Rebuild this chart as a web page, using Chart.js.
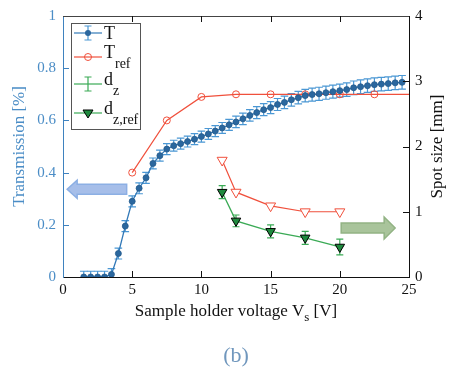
<!DOCTYPE html>
<html>
<head>
<meta charset="utf-8">
<script src="https://cdn.jsdelivr.net/npm/chart.js@4.4.0/dist/chart.umd.min.js"></script>
<style>
  html, body { margin: 0; padding: 0; background: #fff; }
  canvas { display: block; }
</style>
</head>
<body>
<canvas id="chart" width="449" height="376"></canvas>
<script>
// transmission scan, 0.5 V steps
const voltage = [1.5, 2, 2.5, 3, 3.5, 4, 4.5, 5, 5.5, 6, 6.5, 7, 7.5, 8, 8.5, 9, 9.5, 10, 10.5, 11,
  11.5, 12, 12.5, 13, 13.5, 14, 14.5, 15, 15.5, 16, 16.5, 17, 17.5, 18, 18.5, 19, 19.5, 20, 20.5, 21,
  21.5, 22, 22.5, 23, 23.5, 24, 24.5];
const trans = [0, 0, 0, 0, 0.01, 0.09, 0.195, 0.29, 0.34, 0.38, 0.435, 0.465, 0.49, 0.503, 0.511, 0.519, 0.528, 0.538, 0.548, 0.559,
  0.571, 0.583, 0.594, 0.606, 0.619, 0.63, 0.641, 0.649, 0.661, 0.669, 0.679, 0.687, 0.695, 0.699, 0.702, 0.706, 0.71, 0.714, 0.718, 0.725,
  0.729, 0.733, 0.737, 0.739, 0.741, 0.744, 0.746];
const transErr = [0.022, 0.022, 0.022, 0.022, 0.022, 0.021, 0.021, 0.021, 0.021, 0.021, 0.021, 0.021, 0.021, 0.021, 0.021, 0.021, 0.021, 0.021, 0.021, 0.021,
  0.021, 0.021, 0.022, 0.022, 0.022, 0.023, 0.023, 0.023, 0.023, 0.024, 0.024, 0.024, 0.024, 0.025, 0.025, 0.025, 0.025, 0.025, 0.026, 0.026,
  0.026, 0.026, 0.026, 0.026, 0.026, 0.026, 0.026];

// reference transmission
const refVoltage = [5, 7.5, 10, 12.5, 15, 17.5, 20, 22.5, 25];
const transRef = [0.40, 0.60, 0.69, 0.70, 0.70, 0.70, 0.70, 0.70, 0.70];

// spot size
const spotVoltage = [11.5, 12.5, 15, 17.5, 20];
const spotRef = [1.79, 1.30, 1.09, 1.0, 1.0];
const spotSize = [1.30, 0.86, 0.70, 0.60, 0.46];
const spotErr = [0.10, 0.09, 0.10, 0.10, 0.12];

const xTicks = [0, 5, 10, 15, 20, 25];
const leftTicks = [0, 0.2, 0.4, 0.6, 0.8, 1];
const rightTicks = [0, 1, 2, 3, 4];

const SERIF = "'Liberation Serif', 'DejaVu Serif', serif";
const C = {
  blue:     '#3279b8',
  blueDot:  '#2b679e',
  blueErr:  '#4a97d4',
  blueAxis: '#3f82bf',
  blueText: '#4b8dc6',
  red:      '#f0503c',
  green:    '#3aaa55',
  greenTri: '#1f8a3e',
  ink:      '#111',
};

const pts = (xs, ys) => xs.map((v, i) => ({ x: v, y: ys[i] }));
const fixTicks = (arr) => (s) => { s.ticks = arr.map(v => ({ value: v })); };

// ── plugins ─────────────────────────────────────────────

const errorBars = {
  id: 'errorBars',
  beforeDatasetsDraw(chart) {
    const { ctx, chartArea: ca, scales } = chart;
    const draw = (xs, ys, es, yScale, color, cap) => {
      ctx.strokeStyle = color;
      ctx.lineWidth = 1.2;
      xs.forEach((v, i) => {
        const px = scales.x.getPixelForValue(v);
        const top = yScale.getPixelForValue(ys[i] + es[i]);
        const bot = yScale.getPixelForValue(ys[i] - es[i]);
        ctx.beginPath();
        ctx.moveTo(px, top); ctx.lineTo(px, bot);
        ctx.moveTo(px - cap, top); ctx.lineTo(px + cap, top);
        ctx.moveTo(px - cap, bot); ctx.lineTo(px + cap, bot);
        ctx.stroke();
      });
    };
    ctx.save();
    ctx.beginPath();
    ctx.rect(ca.left, ca.top, ca.right - ca.left, ca.bottom - ca.top);
    ctx.clip();
    draw(voltage, trans, transErr, scales.y, C.blueErr, 3.8);
    draw(spotVoltage, spotSize, spotErr, scales.y2, C.green, 3.5);
    ctx.restore();
  },
};

function arrow(ctx, x0, x1, yc, body, head, headLen, fill, stroke) {
  const dir = Math.sign(x1 - x0);
  const hb = x1 - dir * headLen;
  ctx.beginPath();
  ctx.moveTo(x0, yc - body);
  ctx.lineTo(hb, yc - body);
  ctx.lineTo(hb, yc - head);
  ctx.lineTo(x1, yc);
  ctx.lineTo(hb, yc + head);
  ctx.lineTo(hb, yc + body);
  ctx.lineTo(x0, yc + body);
  ctx.closePath();
  ctx.fillStyle = fill;
  ctx.fill();
  ctx.strokeStyle = stroke;
  ctx.lineWidth = 1.5;
  ctx.stroke();
}

const decor = {
  id: 'decor',
  beforeDatasetsDraw(chart) {
    const { ctx, scales: { x, y, y2 } } = chart;
    ctx.save();
    arrow(ctx, x.getPixelForValue(4.6), x.getPixelForValue(0.3), y.getPixelForValue(0.336),
      5, 9, 10, '#a6bee9', '#8cafe4');
    arrow(ctx, x.getPixelForValue(20.1), x.getPixelForValue(24.0), y2.getPixelForValue(0.75),
      5, 11, 11, '#a9c49b', '#92b384');
    ctx.restore();
  },
  afterDraw(chart) {
    const { ctx, chartArea: ca, scales: { x, y, y2 } } = chart;
    ctx.save();
    // top frame + inward ticks
    ctx.lineWidth = 1;
    ctx.strokeStyle = '#444';
    ctx.beginPath();
    ctx.moveTo(ca.left, ca.top + 0.5); ctx.lineTo(ca.right, ca.top + 0.5);
    ctx.stroke();
    const tl = 6;
    ctx.strokeStyle = C.ink;
    xTicks.slice(1, -1).forEach(v => {
      const px = Math.round(x.getPixelForValue(v)) + 0.5;
      ctx.beginPath();
      ctx.moveTo(px, ca.bottom); ctx.lineTo(px, ca.bottom - tl);
      ctx.moveTo(px, ca.top); ctx.lineTo(px, ca.top + tl);
      ctx.stroke();
    });
    rightTicks.slice(1, -1).forEach(v => {
      const py = Math.round(y2.getPixelForValue(v)) + 0.5;
      ctx.beginPath();
      ctx.moveTo(ca.right, py); ctx.lineTo(ca.right - tl, py);
      ctx.stroke();
    });
    ctx.strokeStyle = C.blueAxis;
    leftTicks.slice(1, -1).forEach(v => {
      const py = Math.round(y.getPixelForValue(v)) + 0.5;
      ctx.beginPath();
      ctx.moveTo(ca.left, py); ctx.lineTo(ca.left + tl, py);
      ctx.stroke();
    });

    // axis titles
    const midY = (ca.top + ca.bottom) / 2;
    ctx.textBaseline = 'middle';
    ctx.textAlign = 'center';
    ctx.font = `17px ${SERIF}`;
    ctx.fillStyle = C.blueText;
    ctx.save();
    ctx.translate(20, midY);
    ctx.rotate(-Math.PI / 2);
    ctx.fillText('Transmission [%]', 0, 0);
    ctx.restore();
    ctx.fillStyle = C.ink;
    ctx.save();
    ctx.translate(438, midY);
    ctx.rotate(-Math.PI / 2);
    ctx.fillText('Spot size [mm]', 0, 0);
    ctx.restore();

    // x title with subscript
    const parts = [['Sample holder voltage V', 17, 0], ['s', 13, 5], [' [V]', 17, 0]];
    let w = 0;
    parts.forEach(([t, s]) => { ctx.font = `${s}px ${SERIF}`; w += ctx.measureText(t).width; });
    let cx = (ca.left + ca.right) / 2 - w / 2;
    ctx.textAlign = 'left';
    ctx.textBaseline = 'alphabetic';
    parts.forEach(([t, s, dy]) => {
      ctx.font = `${s}px ${SERIF}`;
      ctx.fillText(t, cx, ca.bottom + 39 + dy);
      cx += ctx.measureText(t).width;
    });

    // panel label
    ctx.textAlign = 'center';
    ctx.textBaseline = 'middle';
    ctx.font = `22px ${SERIF}`;
    ctx.fillStyle = '#7097bd';
    ctx.fillText('(b)', (ca.left + ca.right) / 2, 356);

    // legend
    const lx = ca.left + 8, ly = ca.top + 7, lw = 69, lh = 106;
    ctx.fillStyle = '#fff';
    ctx.fillRect(lx, ly, lw, lh);
    ctx.strokeStyle = '#555';
    ctx.lineWidth = 1;
    ctx.strokeRect(lx + 0.5, ly + 0.5, lw, lh);
    const sx0 = lx + 3, sx1 = lx + 31, mx = lx + 17, tx = lx + 33;
    const rows = [
      { yy: 33, color: C.blue, main: 'T', sub: '' },
      { yy: 57, color: C.red, main: 'T', sub: 'ref' },
      { yy: 84, color: C.green, main: 'd', sub: 'z' },
      { yy: 113, color: C.green, main: 'd', sub: 'z,ref' },
    ];
    rows.forEach((r, i) => {
      ctx.strokeStyle = r.color;
      ctx.lineWidth = 1.2;
      ctx.beginPath();
      ctx.moveTo(sx0, r.yy); ctx.lineTo(sx1, r.yy);
      ctx.stroke();
      if (i === 0 || i === 2) {
        ctx.strokeStyle = i === 0 ? C.blueErr : C.green;
        ctx.beginPath();
        ctx.moveTo(mx, r.yy - 7); ctx.lineTo(mx, r.yy + 7);
        ctx.moveTo(mx - 3.5, r.yy - 7); ctx.lineTo(mx + 3.5, r.yy - 7);
        ctx.moveTo(mx - 3.5, r.yy + 7); ctx.lineTo(mx + 3.5, r.yy + 7);
        ctx.stroke();
      }
      if (i === 0) {
        ctx.fillStyle = C.blueDot;
        ctx.beginPath(); ctx.arc(mx, r.yy, 3, 0, Math.PI * 2); ctx.fill();
      } else if (i === 1) {
        ctx.strokeStyle = C.red;
        ctx.lineWidth = 1;
        ctx.beginPath(); ctx.arc(mx, r.yy, 3.5, 0, Math.PI * 2); ctx.stroke();
      } else if (i === 3) {
        ctx.fillStyle = C.greenTri;
        ctx.strokeStyle = '#000';
        ctx.lineWidth = 1;
        ctx.beginPath();
        ctx.moveTo(mx - 5, r.yy - 3); ctx.lineTo(mx + 5, r.yy - 3); ctx.lineTo(mx, r.yy + 5);
        ctx.closePath(); ctx.fill(); ctx.stroke();
      }
      ctx.fillStyle = C.ink;
      ctx.textAlign = 'left';
      ctx.textBaseline = 'alphabetic';
      ctx.font = `18px ${SERIF}`;
      const base = r.sub ? r.yy + 1 : r.yy + 6;
      ctx.fillText(r.main, tx, base);
      if (r.sub) {
        const mw = ctx.measureText(r.main).width;
        ctx.font = `14px ${SERIF}`;
        ctx.fillText(r.sub, tx + mw, base + 10);
      }
    });
    ctx.restore();
  },
};

// ── chart ───────────────────────────────────────────────

new Chart(document.getElementById('chart'), {
  type: 'line',
  data: {
    datasets: [
      {
        label: 'T', data: pts(voltage, trans), yAxisID: 'y',
        borderColor: C.blue, borderWidth: 1.3,
        pointRadius: 3, pointBackgroundColor: C.blueDot, pointBorderColor: '#235a8c', pointBorderWidth: 0.8,
      },
      {
        label: 'd_z,ref', data: pts(spotVoltage, spotSize), yAxisID: 'y2',
        borderColor: C.green, borderWidth: 1.3,
        pointStyle: 'triangle', rotation: 180, pointRadius: 5.5,
        pointBackgroundColor: C.greenTri, pointBorderColor: '#000', pointBorderWidth: 1,
      },
      {
        label: 'd ref', data: pts(spotVoltage, spotRef), yAxisID: 'y2',
        borderColor: C.red, borderWidth: 1.2,
        pointStyle: 'triangle', rotation: 180, pointRadius: 5.8,
        pointBackgroundColor: '#fff', pointBorderColor: C.red, pointBorderWidth: 1,
      },
      {
        label: 'T_ref', data: pts(refVoltage, transRef), yAxisID: 'y',
        borderColor: C.red, borderWidth: 1.2,
        pointRadius: ctx => (ctx.raw && ctx.raw.x >= 25 ? 0 : 3.5),
        pointBackgroundColor: 'rgba(255,255,255,0)', pointBorderColor: C.red, pointBorderWidth: 1,
      },
    ],
  },
  options: {
    responsive: false,
    animation: false,
    devicePixelRatio: 1,
    layout: { padding: { top: 15, left: 0, right: 0, bottom: 0 } },
    plugins: { legend: { display: false }, tooltip: { enabled: false } },
    elements: { line: { tension: 0 } },
    scales: {
      x: {
        type: 'linear', position: 'bottom', min: 0, max: 25,
        afterBuildTicks: fixTicks(xTicks),
        afterFit: s => { s.height = 99; },
        grid: { display: false, drawTicks: false },
        border: { color: C.ink, width: 1 },
        ticks: { color: C.ink, font: { family: SERIF, size: 15 }, padding: 4, maxRotation: 0 },
      },
      y: {
        type: 'linear', position: 'left', min: 0, max: 1,
        afterBuildTicks: fixTicks(leftTicks),
        afterFit: s => { s.width = 63; },
        grid: { display: false, drawTicks: false },
        border: { color: C.blueAxis, width: 1 },
        ticks: { color: C.blueText, font: { family: SERIF, size: 15 }, padding: 7, callback: v => String(v) },
      },
      y2: {
        type: 'linear', position: 'right', min: 0, max: 4,
        afterBuildTicks: fixTicks(rightTicks),
        afterFit: s => { s.width = 40; },
        grid: { display: false, drawTicks: false },
        border: { color: C.ink, width: 1 },
        ticks: { color: C.ink, font: { family: SERIF, size: 15 }, padding: 6, callback: v => String(v) },
      },
    },
  },
  plugins: [errorBars, decor],
});
</script>
</body>
</html>
